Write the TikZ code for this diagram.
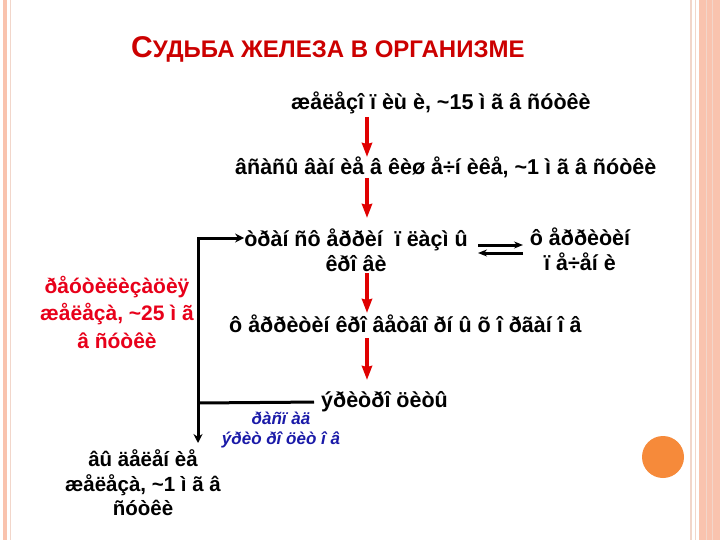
\documentclass[tikz,border=0pt]{standalone}
\usepackage{fontspec}
\setmainfont{Liberation Sans}
\usetikzlibrary{arrows.meta}
\newcommand\tld{\char"7E\relax}
\definecolor{arrred}{HTML}{E00000}
\definecolor{titred}{HTML}{CC0000}
\definecolor{rtxt}{HTML}{E8001A}
\definecolor{blu}{HTML}{1A1AA8}
\definecolor{orng}{HTML}{F68A3A}
\definecolor{bordpink}{HTML}{F9C3AE}
\definecolor{bordline}{HTML}{F2D6CA}
\begin{document}
\begin{tikzpicture}[x=1pt,y=-1pt,
  txt/.style={font=\bfseries\fontsize{21.5}{25}\selectfont, inner sep=0pt, align=center},
  smtxt/.style={font=\bfseries\fontsize{20.5}{24.5}\selectfont, inner sep=0pt, align=center},
  redtxt/.style={txt, text=rtxt, font=\bfseries\fontsize{21}{27.5}\selectfont},
  bluetxt/.style={font=\bfseries\itshape\fontsize{17}{20}\selectfont, text=blu, inner sep=0pt, align=center},
  redarr/.style={draw=arrred, line width=4pt, -{Stealth[length=14pt,width=10pt,inset=1pt]}},
  blkline/.style={draw=black, line width=3pt},
  blkarr/.style={blkline, -{Stealth[length=9pt,width=9pt]}}
]
\useasboundingbox (0,0) rectangle (720,540);
\fill[white] (0,0) rectangle (720,540);
% page borders
\fill[bordpink] (3,0) rectangle (7,540);
\draw[bordline, line width=1pt] (10,0) -- (10,540);
\draw[bordline, line width=1.5pt] (691,0) -- (691,540);
\draw[bordline, line width=1pt] (695.5,0) -- (695.5,540);
\fill[bordpink] (699,0) rectangle (720,540);
\draw[bordline, line width=0.8pt] (706,0) -- (706,540);
\draw[bordline, line width=0.8pt] (712,0) -- (712,540);
\fill[orng] (663,457) circle (21);
% title
\node[anchor=base west, inner sep=0pt, text=titred, font=\bfseries] (title) at (131,58)
  {\fontsize{30}{30}\selectfont С\fontsize{24}{24}\selectfont УДЬБА ЖЕЛЕЗА В ОРГАНИЗМЕ};
% texts
\node[txt, anchor=west] (r1) at (291,103) {æåëåçî  ï èù è,  \tld15 ì ã â ñóòêè};
\node[txt, anchor=west] (r2) at (235,167) {âñàñû âàí èå â êèø å÷í èêå,  \tld1 ì ã â ñóòêè};
\node[txt] (r3) at (356,250) {òðàí ñô åððèí \ ï ëàçì û\\êðî âè};
\node[txt] (fer) at (580,249) {ô åððèòèí\\ï å÷åí è};
\node[txt, anchor=west] (r4) at (229,324) {ô åððèòèí  êðî âåòâî ðí û õ î ðãàí î â};
\node[txt, anchor=west] (ery) at (321,402) {ýðèòðî öèòû};
\node[bluetxt] (dec) at (281,430) {ðàñï àä\\ýðèò ðî öèò î â};
\node[smtxt] (out) at (143,483) {âû äåëåí èå\\æåëåçà, \tld1 ì ã â\\ñóòêè};
\node[redtxt] (reu) at (117,312) {ðåóòèëèçàöèÿ\\æåëåçà, \tld25 ì ã\\â ñóòêè};
% red arrows
\coordinate (a1) at (367,117); \coordinate (b1) at (367,157);
\coordinate (a2) at (367,178); \coordinate (b2) at (367,218);
\coordinate (a3) at (367,273); \coordinate (b3) at (367,313);
\coordinate (a4) at (367,338); \coordinate (b4) at (367,380);
\draw[redarr] (a1) -- (b1);
\draw[redarr] (a2) -- (b2);
\draw[redarr] (a3) -- (b3);
\draw[redarr] (a4) -- (b4);
% equilibrium
\coordinate (e1) at (478,245); \coordinate (e2) at (523,245);
\coordinate (e3) at (523,253); \coordinate (e4) at (478,253);
\draw[blkline, -{Stealth[length=9pt,width=7pt]}] (e1) -- (e2);
\draw[blkline, -{Stealth[length=9pt,width=7pt]}] (e3) -- (e4);
% recycling loop
\coordinate (j) at (198,403);
\draw[blkline, shorten <=7pt] (ery.west) -- (j);
\draw[blkarr] (j) |- (r3.west |- 0,238) ;
\draw[blkarr] (j) -- (198,443);
\end{tikzpicture}
\end{document}
